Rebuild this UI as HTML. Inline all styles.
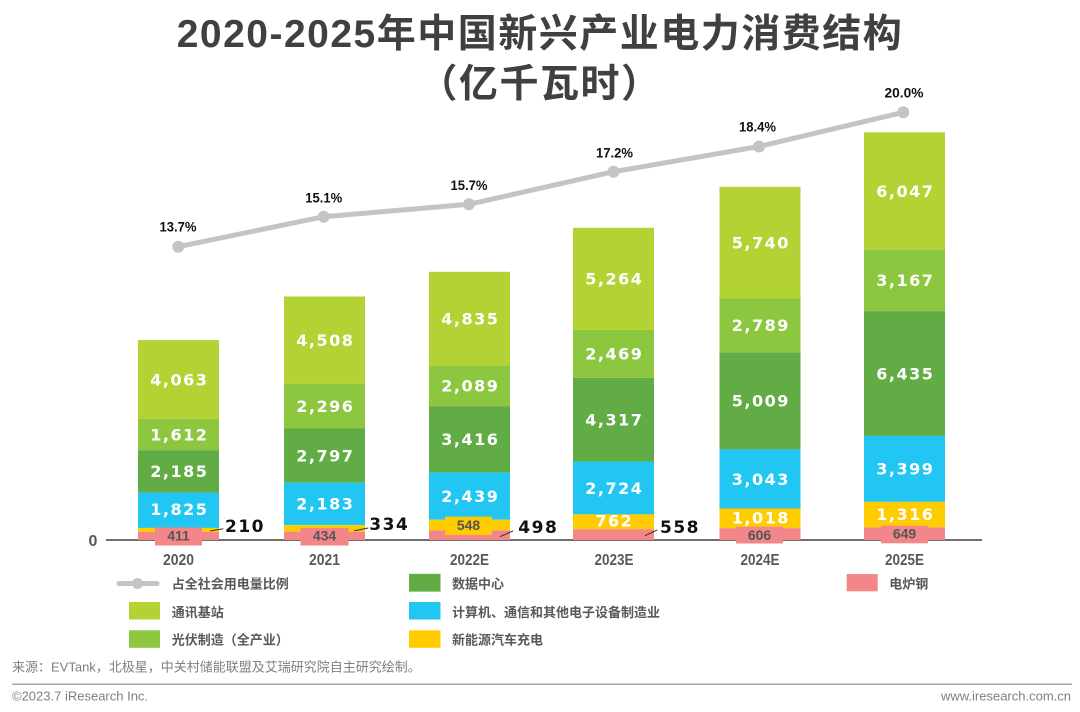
<!DOCTYPE html>
<html>
<head>
<meta charset="utf-8">
<style>
html,body{margin:0;padding:0;background:#fff;}
svg{display:block;}
.cjk{font-family:"Liberation Sans","Noto Sans CJK SC",sans-serif;}
.lat{font-family:"Liberation Sans",sans-serif;}
.val{font-family:"DejaVu Sans",sans-serif;font-weight:bold;font-size:16px;fill:#fff;letter-spacing:1.5px;}
.out{font-family:"DejaVu Sans",sans-serif;font-weight:bold;font-size:17px;fill:#111;letter-spacing:1.5px;}
.box{font-family:"Liberation Sans",sans-serif;font-weight:bold;font-size:14px;fill:#555;}
.pct{font-family:"Liberation Sans",sans-serif;font-weight:bold;font-size:14px;fill:#111;}
.cat{font-family:"Liberation Sans",sans-serif;font-weight:bold;font-size:16px;fill:#595959;}
.leg{font-family:"Liberation Sans","Noto Sans CJK SC",sans-serif;font-weight:bold;font-size:13px;fill:#595959;}
</style>
</head>
<body>
<svg width="1080" height="712" viewBox="0 0 1080 712" xmlns="http://www.w3.org/2000/svg">
<rect x="0" y="0" width="1080" height="712" fill="#fff"/>

<!-- Title -->
<text class="cjk" x="540" y="47" text-anchor="middle" font-size="39" font-weight="bold" letter-spacing="1.5" fill="#404040">2020-2025年中国新兴产业电力消费结构</text>
<text class="cjk" x="540" y="97" text-anchor="middle" font-size="39" font-weight="bold" letter-spacing="1.5" fill="#404040">（亿千瓦时）</text>

<!-- Axis -->
<line x1="106" y1="540" x2="982" y2="540" stroke="#404040" stroke-width="1.6"/>
<text class="cat" x="93" y="546" text-anchor="middle" font-size="14">0</text>

<!-- Bar 2020 -->
<g>
<rect x="138" y="340.06" width="81" height="78.83" fill="#b3d335"/>
<rect x="138" y="418.89" width="81" height="31.27" fill="#8dc63f"/>
<rect x="138" y="450.16" width="81" height="42.39" fill="#62ac46"/>
<rect x="138" y="492.55" width="81" height="35.40" fill="#21c7f2"/>
<rect x="138" y="527.95" width="81" height="4.08" fill="#ffcc00"/>
<rect x="138" y="532.03" width="81" height="7.97" fill="#f28688"/>
<text class="val" x="179.3" y="385.3" text-anchor="middle">4,063</text>
<text class="val" x="179.3" y="440.3" text-anchor="middle">1,612</text>
<text class="val" x="179.3" y="477.2" text-anchor="middle">2,185</text>
<text class="val" x="179.3" y="515.0" text-anchor="middle">1,825</text>
<rect x="155" y="527.5" width="47" height="18" fill="#f28688"/>
<text class="box" x="178.5" y="540.5" text-anchor="middle">411</text>
<line x1="210" y1="531" x2="223.3" y2="528.7" stroke="#333" stroke-width="1"/>
<text class="out" x="225" y="532.2">210</text>
</g>

<!-- Bar 2021 -->
<g>
<rect x="284" y="296.49" width="81" height="87.46" fill="#b3d335"/>
<rect x="284" y="383.95" width="81" height="44.54" fill="#8dc63f"/>
<rect x="284" y="428.49" width="81" height="54.26" fill="#62ac46"/>
<rect x="284" y="482.75" width="81" height="42.35" fill="#21c7f2"/>
<rect x="284" y="525.10" width="81" height="6.48" fill="#ffcc00"/>
<rect x="284" y="531.58" width="81" height="8.42" fill="#f28688"/>
<text class="val" x="325.3" y="346.0" text-anchor="middle">4,508</text>
<text class="val" x="325.3" y="412.0" text-anchor="middle">2,296</text>
<text class="val" x="325.3" y="461.4" text-anchor="middle">2,797</text>
<text class="val" x="325.3" y="509.7" text-anchor="middle">2,183</text>
<rect x="300.5" y="528" width="48" height="17.5" fill="#f28688"/>
<text class="box" x="324.5" y="540.7" text-anchor="middle">434</text>
<line x1="354.3" y1="530.7" x2="368.3" y2="528" stroke="#333" stroke-width="1"/>
<text class="out" x="369.3" y="530.2">334</text>
</g>

<!-- Bar 2022E -->
<g>
<rect x="429" y="271.79" width="81" height="93.80" fill="#b3d335"/>
<rect x="429" y="365.59" width="81" height="40.53" fill="#8dc63f"/>
<rect x="429" y="406.12" width="81" height="66.27" fill="#62ac46"/>
<rect x="429" y="472.39" width="81" height="47.32" fill="#21c7f2"/>
<rect x="429" y="519.71" width="81" height="10.63" fill="#ffcc00"/>
<rect x="429" y="530.34" width="81" height="9.66" fill="#f28688"/>
<text class="val" x="470.3" y="324.5" text-anchor="middle">4,835</text>
<text class="val" x="470.3" y="391.7" text-anchor="middle">2,089</text>
<text class="val" x="470.3" y="445.1" text-anchor="middle">3,416</text>
<text class="val" x="470.3" y="501.9" text-anchor="middle">2,439</text>
<rect x="445" y="516.7" width="47" height="18.3" fill="#ffcc00"/>
<text class="box" x="468.5" y="530" text-anchor="middle">548</text>
<line x1="500" y1="536.7" x2="513.3" y2="530.7" stroke="#333" stroke-width="1"/>
<text class="out" x="518.3" y="532.9">498</text>
</g>

<!-- Bar 2023E -->
<g>
<rect x="573" y="227.78" width="81" height="102.12" fill="#b3d335"/>
<rect x="573" y="329.90" width="81" height="47.90" fill="#8dc63f"/>
<rect x="573" y="377.80" width="81" height="83.75" fill="#62ac46"/>
<rect x="573" y="461.55" width="81" height="52.84" fill="#21c7f2"/>
<rect x="573" y="514.39" width="81" height="14.78" fill="#ffcc00"/>
<rect x="573" y="529.17" width="81" height="10.83" fill="#f28688"/>
<text class="val" x="614.3" y="284.6" text-anchor="middle">5,264</text>
<text class="val" x="614.3" y="359.6" text-anchor="middle">2,469</text>
<text class="val" x="614.3" y="425.5" text-anchor="middle">4,317</text>
<text class="val" x="614.3" y="493.8" text-anchor="middle">2,724</text>
<text class="val" x="614.3" y="526.3" text-anchor="middle">762</text>
<line x1="645" y1="535.7" x2="657.3" y2="530" stroke="#333" stroke-width="1"/>
<text class="out" x="660" y="532.9">558</text>
</g>

<!-- Bar 2024E -->
<g>
<rect x="719.5" y="186.82" width="81" height="111.36" fill="#b3d335"/>
<rect x="719.5" y="298.18" width="81" height="54.11" fill="#8dc63f"/>
<rect x="719.5" y="352.29" width="81" height="97.17" fill="#62ac46"/>
<rect x="719.5" y="449.46" width="81" height="59.03" fill="#21c7f2"/>
<rect x="719.5" y="508.49" width="81" height="19.75" fill="#ffcc00"/>
<rect x="719.5" y="528.24" width="81" height="11.76" fill="#f28688"/>
<text class="val" x="760.8" y="248.3" text-anchor="middle">5,740</text>
<text class="val" x="760.8" y="331.0" text-anchor="middle">2,789</text>
<text class="val" x="760.8" y="406.7" text-anchor="middle">5,009</text>
<text class="val" x="760.8" y="484.8" text-anchor="middle">3,043</text>
<text class="val" x="760.8" y="523.3" text-anchor="middle">1,018</text>
<rect x="736" y="526.7" width="47" height="16.8" fill="#f28688"/>
<text class="box" x="759.5" y="540" text-anchor="middle">606</text>
</g>

<!-- Bar 2025E -->
<g>
<rect x="864" y="132.35" width="81" height="117.31" fill="#b3d335"/>
<rect x="864" y="249.66" width="81" height="61.44" fill="#8dc63f"/>
<rect x="864" y="311.10" width="81" height="124.84" fill="#62ac46"/>
<rect x="864" y="435.94" width="81" height="65.94" fill="#21c7f2"/>
<rect x="864" y="501.88" width="81" height="25.53" fill="#ffcc00"/>
<rect x="864" y="527.41" width="81" height="12.59" fill="#f28688"/>
<text class="val" x="905.3" y="196.8" text-anchor="middle">6,047</text>
<text class="val" x="905.3" y="286.2" text-anchor="middle">3,167</text>
<text class="val" x="905.3" y="379.3" text-anchor="middle">6,435</text>
<text class="val" x="905.3" y="474.7" text-anchor="middle">3,399</text>
<text class="val" x="905.3" y="520.0" text-anchor="middle">1,316</text>
<rect x="881" y="525.7" width="47" height="17.6" fill="#f28688"/>
<text class="box" x="904.5" y="538.7" text-anchor="middle">649</text>
</g>

<!-- Category labels -->
<text class="cat" x="178.5" y="565" text-anchor="middle" textLength="31" lengthAdjust="spacingAndGlyphs">2020</text>
<text class="cat" x="324.5" y="565" text-anchor="middle" textLength="31" lengthAdjust="spacingAndGlyphs">2021</text>
<text class="cat" x="469.5" y="565" text-anchor="middle" textLength="39" lengthAdjust="spacingAndGlyphs">2022E</text>
<text class="cat" x="614" y="565" text-anchor="middle" textLength="39" lengthAdjust="spacingAndGlyphs">2023E</text>
<text class="cat" x="760" y="565" text-anchor="middle" textLength="39" lengthAdjust="spacingAndGlyphs">2024E</text>
<text class="cat" x="904.5" y="565" text-anchor="middle" textLength="39" lengthAdjust="spacingAndGlyphs">2025E</text>

<!-- Line series -->
<polyline points="178.3,246.7 323.7,216.7 469,204.3 613.5,171.7 759,146.5 903.3,112.3" fill="none" stroke="#c4c4c4" stroke-width="5" stroke-linejoin="round" stroke-linecap="round"/>
<circle cx="178.3" cy="246.7" r="6" fill="#c4c4c4"/>
<circle cx="323.7" cy="216.7" r="6" fill="#c4c4c4"/>
<circle cx="469" cy="204.3" r="6" fill="#c4c4c4"/>
<circle cx="613.5" cy="171.7" r="6" fill="#c4c4c4"/>
<circle cx="759" cy="146.5" r="6" fill="#c4c4c4"/>
<circle cx="903.3" cy="112.3" r="6" fill="#c4c4c4"/>
<text class="pct" x="178" y="231.7" text-anchor="middle" textLength="37" lengthAdjust="spacingAndGlyphs">13.7%</text>
<text class="pct" x="323.7" y="202.7" text-anchor="middle" textLength="37" lengthAdjust="spacingAndGlyphs">15.1%</text>
<text class="pct" x="469" y="190" text-anchor="middle" textLength="37" lengthAdjust="spacingAndGlyphs">15.7%</text>
<text class="pct" x="614.5" y="157.7" text-anchor="middle" textLength="37" lengthAdjust="spacingAndGlyphs">17.2%</text>
<text class="pct" x="757.5" y="131.7" text-anchor="middle" textLength="37" lengthAdjust="spacingAndGlyphs">18.4%</text>
<text class="pct" x="904" y="97.7" text-anchor="middle" textLength="39" lengthAdjust="spacingAndGlyphs">20.0%</text>

<!-- Legend -->
<line x1="119" y1="583.5" x2="157" y2="583.5" stroke="#c4c4c4" stroke-width="5" stroke-linecap="round"/>
<circle cx="137.5" cy="583.5" r="5.5" fill="#c4c4c4"/>
<text class="leg" x="171.7" y="588.7">占全社会用电量比例</text>

<rect x="129" y="602" width="31" height="17.5" fill="#b3d335"/>
<text class="leg" x="171.7" y="617">通讯基站</text>

<rect x="129" y="630.3" width="31" height="17.5" fill="#8dc63f"/>
<text class="leg" x="171.7" y="644.7">光伏制造（全产业）</text>

<rect x="409" y="573.8" width="31.5" height="17.8" fill="#62ac46"/>
<text class="leg" x="452" y="588.7">数据中心</text>

<rect x="409" y="602" width="31.5" height="17.5" fill="#21c7f2"/>
<text class="leg" x="452" y="617">计算机、通信和其他电子设备制造业</text>

<rect x="409" y="630.3" width="31.5" height="17.5" fill="#ffcc00"/>
<text class="leg" x="452" y="644.7">新能源汽车充电</text>

<rect x="846.7" y="574" width="31" height="17.3" fill="#f28688"/>
<text class="leg" x="889.3" y="588.7">电炉钢</text>

<!-- Source & footer -->
<text class="cjk" x="12" y="671.5" font-size="13" fill="#7f7f7f">来源：EVTank，北极星，中关村储能联盟及艾瑞研究院自主研究绘制。</text>
<line x1="12" y1="684.3" x2="1072" y2="684.3" stroke="#a6a6a6" stroke-width="1.5"/>
<text class="lat" x="12" y="700.5" font-size="13" fill="#7f7f7f">©2023.7 iResearch Inc.</text>
<text class="lat" x="1071" y="700.5" font-size="13" fill="#7f7f7f" text-anchor="end">www.iresearch.com.cn</text>
</svg>
</body>
</html>
